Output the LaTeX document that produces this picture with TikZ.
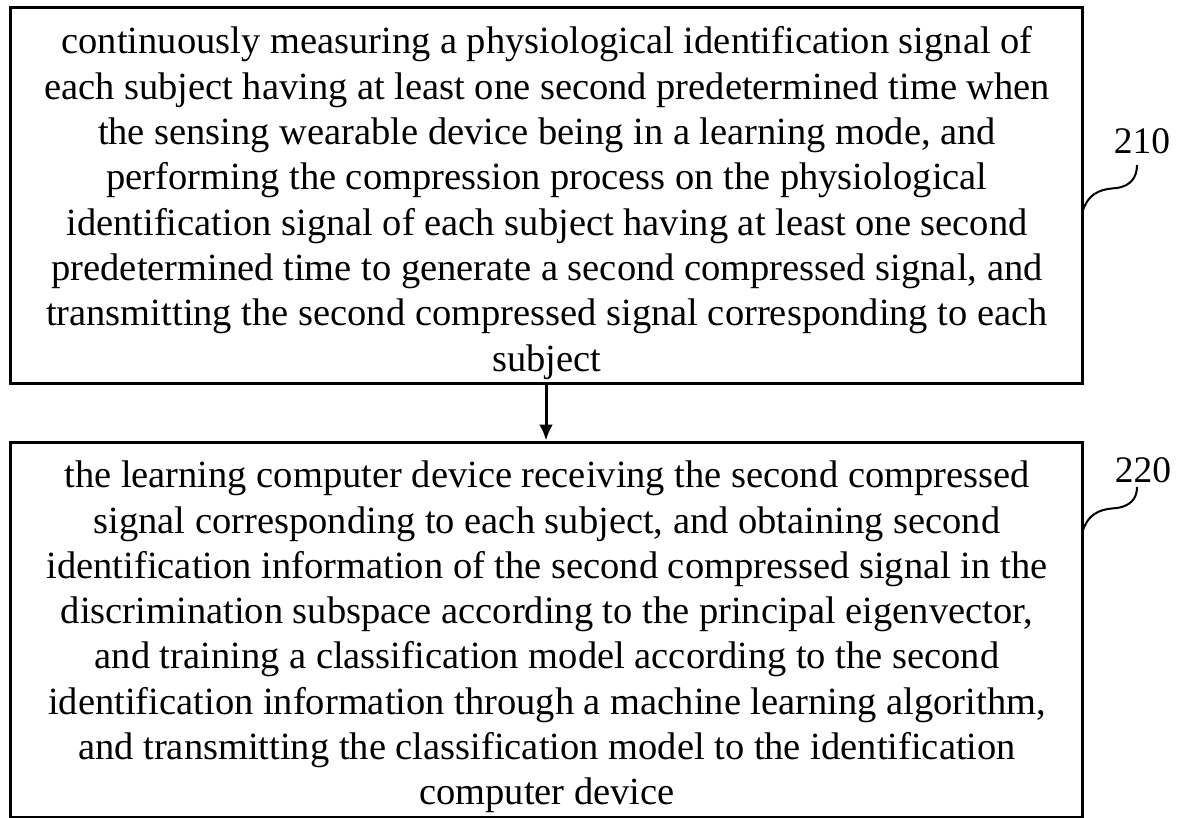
\documentclass[tikz,border=0pt]{standalone}
\usepackage{fontspec}
\setmainfont{Liberation Serif}
\usetikzlibrary{arrows.meta}
\begin{document}
\begin{tikzpicture}[x=1pt,y=-1pt,
  stepbox/.style={draw, line width=3pt, minimum width=1072pt, minimum height=375pt, inner sep=0pt},
  steptext/.style={inner sep=0pt, align=center, font=\fontsize{38.5}{45.3}\selectfont},
  reflabel/.style={inner sep=0pt, font=\fontsize{37.5}{45}\selectfont},
  leader/.style={line width=2pt},
  flow/.style={line width=3pt, -{Latex[length=16pt,width=14pt]}}]
\useasboundingbox (0,0) rectangle (1180,818);
\node[stepbox] (b1) at (546,195.5) {};
\node[stepbox] (b2) at (546,629.5) {};
\node[steptext] (t1) at (547,203) {continuously measuring a physiological identification signal of\\
each subject having at least one second predetermined time when\\
the sensing wearable device being in a learning mode, and\\
performing the compression process on the physiological\\
identification signal of each subject having at least one second\\
predetermined time to generate a second compressed signal, and\\
transmitting the second compressed signal corresponding to each\\
subject};
\node[steptext] (t2) at (547,637) {the learning computer device receiving the second compressed\\
signal corresponding to each subject, and obtaining second\\
identification information of the second compressed signal in the\\
discrimination subspace according to the principal eigenvector,\\
and training a classification model according to the second\\
identification information through a machine learning algorithm,\\
and transmitting the classification model to the identification\\
computer device};
\draw[flow] (b1.south) -- (b2.north);
\node[reflabel] (l1) at (1142,141) {210};
\node[reflabel] (l2) at (1143,470) {220};
\coordinate (s1) at (1083,210);
\coordinate (e1) at (1137,165);
\coordinate (s2) at (1083,530);
\coordinate (e2) at (1137,487);
\draw[leader] (s1) .. controls (1090,190) and (1105,189) .. (1117,188) .. controls (1130,186) and (1137,178) .. (e1);
\draw[leader] (s2) .. controls (1090,510) and (1105,509) .. (1117,508) .. controls (1130,506) and (1137,499) .. (e2);
\end{tikzpicture}
\end{document}
